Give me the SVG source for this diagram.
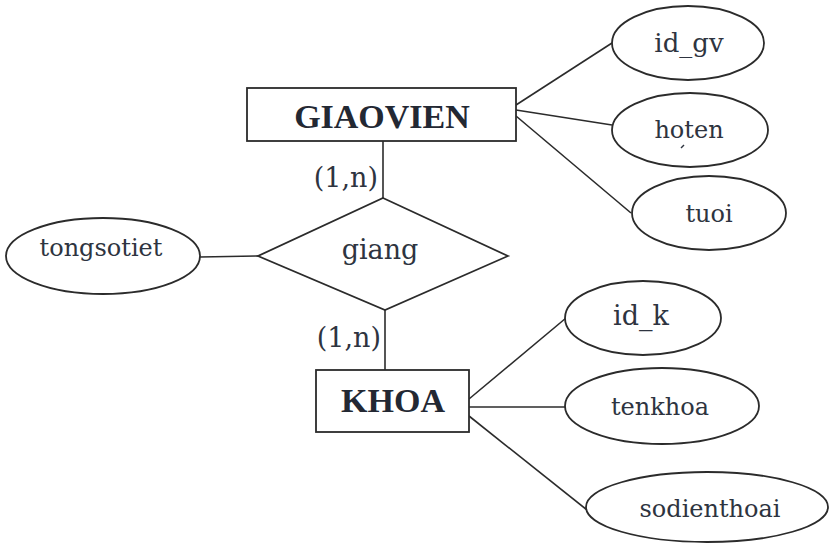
<svg xmlns="http://www.w3.org/2000/svg" width="833" height="545" viewBox="0 0 833 545">
  <style>
    .shape { fill: #ffffff; stroke: #2b2b2b; stroke-width: 1.8; }
    .link { fill: none; stroke: #2b2b2b; stroke-width: 1.6; }
    .entity { font-family: "Liberation Serif", "Times New Roman", serif; font-weight: bold; font-size: 34px; fill: #232833; text-anchor: middle; }
    .attr { font-family: "DejaVu Serif", "Liberation Serif", serif; font-size: 24px; fill: #2e3440; text-anchor: middle; }
    .card { font-family: "DejaVu Serif", "Liberation Serif", serif; font-size: 27px; fill: #2e3440; text-anchor: end; }
  </style>
  <rect width="833" height="545" fill="#ffffff"/>

  <!-- connectors -->
  <g id="connectors">
    <line class="link" x1="383" y1="141" x2="383" y2="198"/>
    <line class="link" x1="385" y1="310" x2="385" y2="370"/>
    <line class="link" x1="200" y1="257" x2="258" y2="256"/>
    <line class="link" x1="516" y1="105" x2="612" y2="43"/>
    <line class="link" x1="516" y1="110" x2="612" y2="125"/>
    <line class="link" x1="516" y1="116" x2="631" y2="213"/>
    <line class="link" x1="469" y1="399" x2="566" y2="318"/>
    <line class="link" x1="469" y1="407" x2="566" y2="407"/>
    <line class="link" x1="469" y1="416" x2="587" y2="510"/>
  </g>

  <!-- cardinalities -->
  <g id="cardinalities">
    <text class="card" x="378" y="187">(1,n)</text>
    <text class="card" x="381" y="347">(1,n)</text>
  </g>

  <g id="giaovien">
    <rect class="shape" x="247" y="88" width="269" height="53"/>
    <text class="entity" x="382" y="128">GIAOVIEN</text>
  </g>

  <g id="khoa">
    <rect class="shape" x="316" y="370" width="153" height="62"/>
    <text class="entity" x="393" y="412">KHOA</text>
  </g>

  <g id="giang">
    <polygon class="shape" points="383,198 508,256 385,310 258,256"/>
    <text class="attr" x="380" y="259" style="font-size:27px">giang</text>
  </g>

  <g id="tongsotiet">
    <ellipse class="shape" cx="103" cy="256" rx="97" ry="38"/>
    <text class="attr" x="101" y="256">tongsotiet</text>
  </g>

  <g id="id_gv">
    <ellipse class="shape" cx="688" cy="43" rx="76" ry="37"/>
    <text class="attr" x="689" y="52" style="font-size:26px">id_gv</text>
  </g>

  <g id="hoten">
    <ellipse class="shape" cx="690" cy="130" rx="78" ry="37"/>
    <text class="attr" x="689" y="138">hoten</text>
    <path d="M681 148 L684 145" stroke="#2e3440" stroke-width="1.5" fill="none"/>
  </g>

  <g id="tuoi">
    <ellipse class="shape" cx="709" cy="213" rx="77" ry="37"/>
    <text class="attr" x="709" y="222">tuoi</text>
  </g>

  <g id="id_k">
    <ellipse class="shape" cx="643" cy="318" rx="78" ry="37"/>
    <text class="attr" x="641" y="325" style="font-size:27px">id_k</text>
  </g>

  <g id="tenkhoa">
    <ellipse class="shape" cx="662" cy="406" rx="97" ry="38"/>
    <text class="attr" x="660" y="415">tenkhoa</text>
  </g>

  <g id="sodienthoai">
    <ellipse class="shape" cx="707" cy="507" rx="121" ry="35"/>
    <text class="attr" x="710" y="517">sodienthoai</text>
  </g>
</svg>
